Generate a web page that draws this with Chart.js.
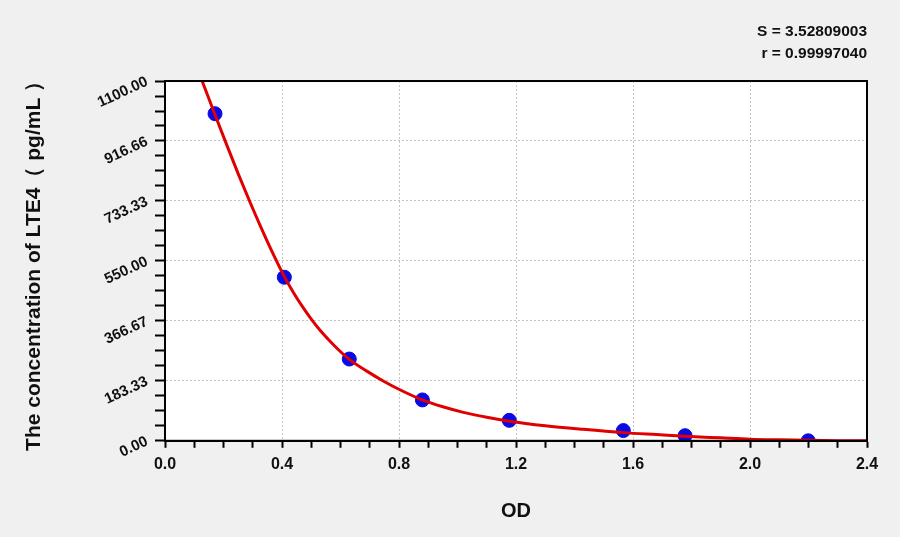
<!DOCTYPE html>
<html>
<head>
<meta charset="utf-8">
<script src="https://cdn.jsdelivr.net/npm/chart.js@4"></script>
<style>
  html, body { margin: 0; padding: 0; background: #f0f0f0; }
  #wrap { width: 900px; height: 537px; }
</style>
</head>
<body>
<div id="wrap"><canvas id="curveChart" width="900" height="537"></canvas></div>
<script>
// standard points (OD vs concentration)
const stdOD = [0.171, 0.408, 0.630, 0.880, 1.177, 1.567, 1.778, 2.199];
const stdConc = [1000, 500, 250, 125, 62.5, 31.25, 15.625, 0];

// fitted curve
const fitOD = [0.127, 0.17, 0.21, 0.25, 0.29, 0.33, 0.37, 0.41, 0.44, 0.47, 0.50, 0.53, 0.58, 0.63, 0.69, 0.746, 0.81, 0.877, 0.95, 1.02, 1.1, 1.177, 1.3, 1.43, 1.567, 1.68, 1.778, 1.9, 2.0, 2.1, 2.2, 2.3, 2.4];
const fitConc = [1100, 999, 907, 817, 731, 649, 571, 499, 452, 410, 372, 338, 290, 249, 213, 183, 153, 126, 104, 87, 72, 60, 46, 35, 25, 19, 14, 9, 5, 3, 1.5, 0.5, 0];

const xTickLabels = ["0.0", "0.4", "0.8", "1.2", "1.6", "2.0", "2.4"];
const yTickLabels = ["0.00", "183.33", "366.67", "550.00", "733.33", "916.66", "1100.00"];
const statLines = ["S = 3.52809003", "r = 0.99997040"];

const xMax = 2.4, yMax = 1100, minorPerMajor = 4;

const ctx = document.getElementById("curveChart").getContext("2d");

const plotBox = {
    id: "plotBox",
    beforeDraw(chart) {
        const a = chart.chartArea;
        chart.ctx.save();
        chart.ctx.fillStyle = "#ffffff";
        chart.ctx.fillRect(a.left, a.top, a.right - a.left, a.bottom - a.top);
        chart.ctx.restore();
    },
    afterDraw(chart) {
        const a = chart.chartArea;
        chart.ctx.save();
        chart.ctx.strokeStyle = "#000";
        chart.ctx.lineWidth = 2;
        chart.ctx.strokeRect(a.left, a.top, a.right - a.left, a.bottom - a.top);
        chart.ctx.restore();
    }
};

function minorTicks(max, labels) {
    const n = (labels.length - 1) * minorPerMajor;
    const out = [];
    for (let i = 0; i <= n; i++) out.push({ value: max * i / n });
    return out;
}

const gridColor = c => (c.index % minorPerMajor === 0 ? "#c4c4c4" : "rgba(0,0,0,0)");
const fontFamily = "'Liberation Sans', Arial, sans-serif";

new Chart(ctx, {
    type: "scatter",
    data: {
        datasets: [
            {
                label: "fit",
                type: "line",
                data: fitOD.map((x, i) => ({ x, y: fitConc[i] })),
                borderColor: "#e00000",
                borderWidth: 3,
                pointRadius: 0,
                cubicInterpolationMode: "monotone",
                fill: false,
                order: 1
            },
            {
                label: "standards",
                data: stdOD.map((x, i) => ({ x, y: stdConc[i] })),
                backgroundColor: "#0a0ae6",
                borderColor: "#0a0ae6",
                pointRadius: 7,
                pointHoverRadius: 7,
                order: 2
            }
        ]
    },
    options: {
        responsive: false,
        animation: false,
        layout: { padding: { left: 20, right: 33, top: 0, bottom: 8 } },
        plugins: {
            legend: { display: false },
            tooltip: { enabled: false },
            title: {
                display: true,
                text: statLines,
                align: "end",
                color: "#111",
                font: { family: fontFamily, size: 15.5, weight: "bold", lineHeight: 1.42 },
                padding: { top: 21, bottom: 16 }
            }
        },
        scales: {
            x: {
                type: "linear",
                min: 0,
                max: xMax,
                afterBuildTicks: s => { s.ticks = minorTicks(xMax, xTickLabels); },
                ticks: {
                    autoSkip: false,
                    maxRotation: 0,
                    color: "#111",
                    font: { family: fontFamily, size: 16, weight: "bold" },
                    padding: 7,
                    callback: (v, i) => (i % minorPerMajor === 0 ? xTickLabels[i / minorPerMajor] : "")
                },
                grid: { color: gridColor, tickColor: "#000", tickLength: 7, tickWidth: 2, lineWidth: 1 },
                border: { display: true, color: "#000", width: 2, dash: [2, 2] },
                title: {
                    display: true,
                    text: "OD",
                    color: "#111",
                    font: { family: fontFamily, size: 20, weight: "bold" },
                    padding: { top: 18, bottom: 6 }
                }
            },
            y: {
                type: "linear",
                min: 0,
                max: yMax,
                afterBuildTicks: s => { s.ticks = minorTicks(yMax, yTickLabels); },
                afterFit: s => { s.width = 145; },
                ticks: {
                    autoSkip: false,
                    minRotation: 25,
                    maxRotation: 25,
                    color: "#111",
                    font: { family: fontFamily, size: 15, weight: "bold" },
                    padding: 8,
                    callback: (v, i) => (i % minorPerMajor === 0 ? yTickLabels[i / minorPerMajor] : "")
                },
                grid: { color: gridColor, tickColor: "#000", tickLength: 10, tickWidth: 2, lineWidth: 1 },
                border: { display: true, color: "#000", width: 2, dash: [2, 2] },
                title: {
                    display: true,
                    text: "The concentration of LTE4（ pg/mL ）",
                    color: "#111",
                    font: { family: fontFamily, size: 21, weight: "bold" },
                    padding: { top: 2, bottom: 4 }
                }
            }
        }
    },
    plugins: [plotBox]
});
</script>
</body>
</html>
